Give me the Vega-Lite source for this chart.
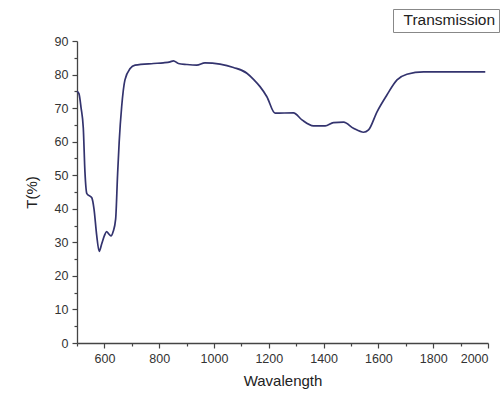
{
  "$schema": "https://vega.github.io/schema/vega-lite/v6.json",
  "width": 411,
  "height": 302,
  "autosize": {"type": "none"},
  "padding": {"left": 77, "top": 41, "right": 16, "bottom": 53},
  "background": "white",
  "config": {
    "view": {"stroke": null},
    "font": "Liberation Sans",
    "axis": {"labelFont": "Liberation Sans", "titleFont": "Liberation Sans", "labelColor": "#333", "titleColor": "#222", "domainColor": "#444", "tickColor": "#444", "titleFontWeight": "normal", "grid": false}
  },
  "data": {
    "values": [
      {"wavelength": 500, "T": 75.0, "series": "Transmission"},
      {"wavelength": 507, "T": 74.3, "series": "Transmission"},
      {"wavelength": 515, "T": 70.0, "series": "Transmission"},
      {"wavelength": 523, "T": 64.0, "series": "Transmission"},
      {"wavelength": 529, "T": 51.0, "series": "Transmission"},
      {"wavelength": 536, "T": 44.5, "series": "Transmission"},
      {"wavelength": 554, "T": 43.3, "series": "Transmission"},
      {"wavelength": 562, "T": 40.0, "series": "Transmission"},
      {"wavelength": 572, "T": 32.0, "series": "Transmission"},
      {"wavelength": 581, "T": 27.3, "series": "Transmission"},
      {"wavelength": 590, "T": 29.5, "series": "Transmission"},
      {"wavelength": 600, "T": 32.0, "series": "Transmission"},
      {"wavelength": 608, "T": 33.2, "series": "Transmission"},
      {"wavelength": 615, "T": 32.6, "series": "Transmission"},
      {"wavelength": 624, "T": 31.9, "series": "Transmission"},
      {"wavelength": 632, "T": 33.2, "series": "Transmission"},
      {"wavelength": 641, "T": 36.9, "series": "Transmission"},
      {"wavelength": 648, "T": 50.0, "series": "Transmission"},
      {"wavelength": 654, "T": 60.0, "series": "Transmission"},
      {"wavelength": 663, "T": 70.4, "series": "Transmission"},
      {"wavelength": 675, "T": 78.4, "series": "Transmission"},
      {"wavelength": 694, "T": 81.8, "series": "Transmission"},
      {"wavelength": 712, "T": 82.8, "series": "Transmission"},
      {"wavelength": 779, "T": 83.3, "series": "Transmission"},
      {"wavelength": 815, "T": 83.5, "series": "Transmission"},
      {"wavelength": 840, "T": 83.8, "series": "Transmission"},
      {"wavelength": 852, "T": 84.1, "series": "Transmission"},
      {"wavelength": 870, "T": 83.3, "series": "Transmission"},
      {"wavelength": 900, "T": 83.0, "series": "Transmission"},
      {"wavelength": 937, "T": 82.8, "series": "Transmission"},
      {"wavelength": 967, "T": 83.5, "series": "Transmission"},
      {"wavelength": 1022, "T": 83.1, "series": "Transmission"},
      {"wavelength": 1071, "T": 82.1, "series": "Transmission"},
      {"wavelength": 1120, "T": 80.4, "series": "Transmission"},
      {"wavelength": 1145, "T": 78.5, "series": "Transmission"},
      {"wavelength": 1168, "T": 76.4, "series": "Transmission"},
      {"wavelength": 1193, "T": 73.4, "series": "Transmission"},
      {"wavelength": 1223, "T": 68.5, "series": "Transmission"},
      {"wavelength": 1290, "T": 68.6, "series": "Transmission"},
      {"wavelength": 1321, "T": 66.5, "series": "Transmission"},
      {"wavelength": 1363, "T": 64.7, "series": "Transmission"},
      {"wavelength": 1406, "T": 64.7, "series": "Transmission"},
      {"wavelength": 1436, "T": 65.7, "series": "Transmission"},
      {"wavelength": 1473, "T": 65.8, "series": "Transmission"},
      {"wavelength": 1509, "T": 64.0, "series": "Transmission"},
      {"wavelength": 1546, "T": 62.8, "series": "Transmission"},
      {"wavelength": 1564, "T": 63.5, "series": "Transmission"},
      {"wavelength": 1595, "T": 68.9, "series": "Transmission"},
      {"wavelength": 1631, "T": 73.9, "series": "Transmission"},
      {"wavelength": 1668, "T": 78.4, "series": "Transmission"},
      {"wavelength": 1704, "T": 80.1, "series": "Transmission"},
      {"wavelength": 1765, "T": 80.8, "series": "Transmission"},
      {"wavelength": 1990, "T": 80.8, "series": "Transmission"}
    ]
  },
  "mark": {"type": "line", "strokeWidth": 1.7, "interpolate": "monotone"},
  "encoding": {
    "x": {
      "field": "wavelength", "type": "quantitative",
      "scale": {"domain": [500, 2000], "nice": false, "zero": false},
      "axis": {
        "title": "Wavalength", "titleFontSize": 15, "titlePadding": 9,
        "labelFontSize": 12.5, "labelPadding": 4,
        "values": [500, 600, 700, 800, 900, 1000, 1100, 1200, 1300, 1400, 1500, 1600, 1700, 1800, 1900, 2000],
        "labelExpr": "datum.value % 200 == 0 ? datum.label : ''",
        "format": "d",
        "tickSize": {"condition": {"test": "datum.value % 200 == 0", "value": 5}, "value": 3},
        "domainWidth": 1.3, "tickWidth": 1.2
      }
    },
    "y": {
      "field": "T", "type": "quantitative",
      "scale": {"domain": [0, 90], "nice": false},
      "axis": {
        "title": "T(%)", "titleFontSize": 15, "titlePadding": 15,
        "labelFontSize": 12.5, "labelPadding": 4,
        "values": [0, 5, 10, 15, 20, 25, 30, 35, 40, 45, 50, 55, 60, 65, 70, 75, 80, 85, 90],
        "labelExpr": "datum.value % 10 == 0 ? datum.label : ''",
        "tickSize": {"condition": {"test": "datum.value % 10 == 0", "value": 5}, "value": 3},
        "domainWidth": 1.3, "tickWidth": 1.2
      }
    },
    "color": {
      "field": "series", "type": "nominal",
      "scale": {"range": ["#33336e"]},
      "legend": {
        "title": null, "orient": "none", "legendX": 316, "legendY": -32,
        "symbolSize": 0, "symbolStrokeWidth": 0, "symbolOpacity": 0,
        "labelFontSize": 15.5, "labelColor": "#222", "labelOffset": -8,
        "strokeColor": "#888", "padding": 3, "fillColor": "white"
      }
    }
  }
}
